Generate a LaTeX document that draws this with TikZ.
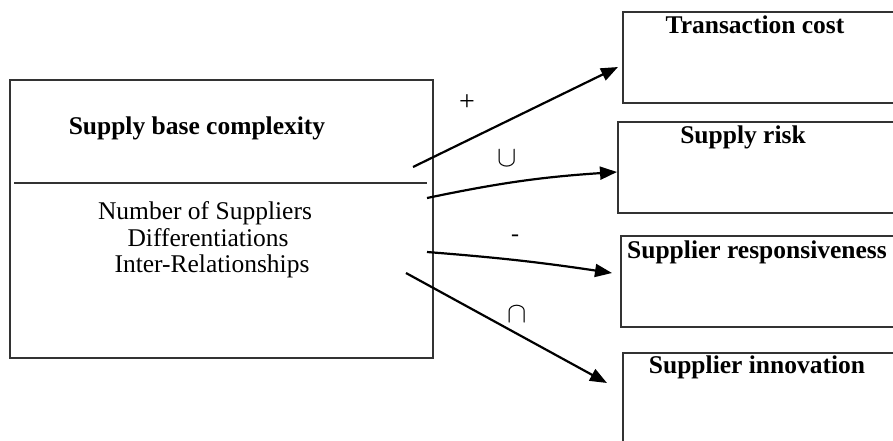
\documentclass[tikz,border=0pt]{standalone}
\usepackage{fontspec}
\setmainfont{Liberation Serif}
\usetikzlibrary{arrows.meta}
\begin{document}
\begin{tikzpicture}[x=1pt,y=-1pt,
  box/.style={draw=black!80,line width=2pt,inner sep=0pt},
  title/.style={font=\fontsize{25.5}{26.5}\selectfont\bfseries,inner sep=0pt,anchor=base},
  body/.style={font=\fontsize{25.5}{26.5}\selectfont,inner sep=0pt,anchor=base},
  sign/.style={font=\fontsize{28}{30}\selectfont,inner sep=0pt},
  conn/.style={line width=2.2pt,-{Triangle[length=17pt,width=13pt]}}]
\clip (0,0) rectangle (893,440);
\fill[white] (0,0) rectangle (893,440);
% left box
\node[box,minimum width=423pt,minimum height=278pt] (src) at (221.5,219) {};
\coordinate (divl) at (14,183);
\coordinate (divr) at (427,183);
\draw[line width=1.8pt,black!80] (divl) -- (divr);
\node[title] (srct) at (197,134) {Supply base complexity};
\node[body] (b1) at (205,219) {Number of Suppliers};
\node[body] (b2) at (208,246) {Differentiations};
\node[body] (b3) at (212,272) {Inter-Relationships};
% right boxes
\node[box,minimum width=290pt,minimum height=91pt] (t1) at (768,57.5) {};
\node[box,minimum width=295pt,minimum height=91pt] (t2) at (765.5,167.5) {};
\node[box,minimum width=292pt,minimum height=91pt] (t3) at (767,281.5) {};
\node[box,minimum width=290pt,minimum height=110pt] (t4) at (768,408) {};
\node[title] (t1t) at (755,33) {Transaction cost};
\node[title] (t2t) at (743,143) {Supply risk};
\node[title,anchor=base west] (t3t) at (627,258) {Supplier responsiveness};
\node[title] (t4t) at (757,373) {Supplier innovation};
% connector ends
\coordinate (s1) at (413,167);
\coordinate (e1) at (618,67);
\coordinate (s2) at (427,198);
\coordinate (e2) at (617,172);
\coordinate (s3) at (427,252);
\coordinate (e3) at (612,273);
\coordinate (s4) at (406,273);
\coordinate (e4) at (607,383);
\draw[conn] (s1) -- (e1);
\draw[conn] (s2) to[bend left=4] (e2);
\draw[conn] (s3) to[bend left=2] (e3);
\draw[conn] (s4) -- (e4);
% signs
\node[sign] (l1) at (467,103) {+};
\node[inner sep=0pt] (l2) at (507,158) {\scalebox{2.9}{$\cup$}};
\node[sign,font=\fontsize{24}{26}\selectfont] (l3) at (515,238) {-};
\node[inner sep=0pt] (l4) at (517,314) {\scalebox{2.9}{$\cap$}};
\end{tikzpicture}
\end{document}
